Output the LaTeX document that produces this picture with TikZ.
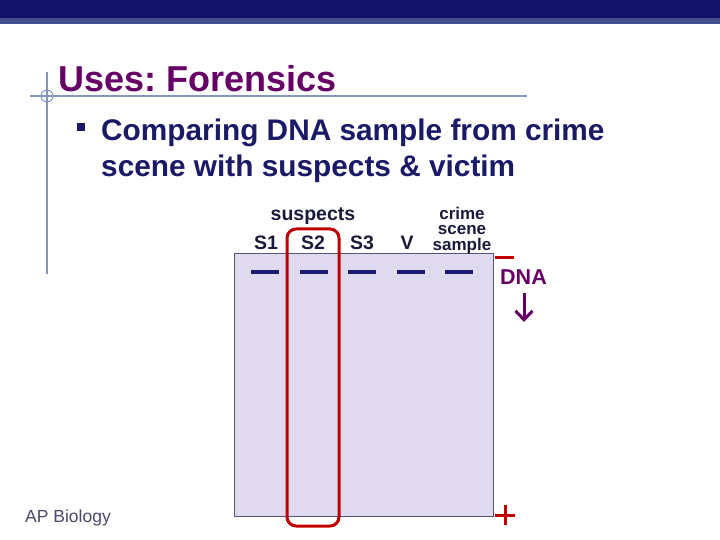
\documentclass[tikz,border=0pt]{standalone}
\usepackage{fontspec}
\setmainfont{Liberation Sans}
\usetikzlibrary{arrows.meta}
\definecolor{navy}{HTML}{121268}
\definecolor{navylight}{HTML}{434E8E}
\definecolor{titlepurple}{HTML}{660066}
\definecolor{textnavy}{HTML}{1A1A66}
\definecolor{guide}{HTML}{8496BE}
\definecolor{gel}{HTML}{E0DAF0}
\definecolor{gelborder}{HTML}{55557A}
\definecolor{bandc}{HTML}{1C1C6E}
\definecolor{redc}{HTML}{C00000}
\definecolor{footc}{HTML}{4A4A6A}
\definecolor{lblc}{HTML}{1A1A3A}
\tikzset{
  band/.style={draw=bandc, line width=4.5pt},
  lanelbl/.style={font=\fontsize{19.5}{21}\selectfont\bfseries, text=lblc, inner sep=0pt},
}
\frenchspacing
\begin{document}
\begin{tikzpicture}[x=1pt,y=-1pt]
\useasboundingbox (0,0) rectangle (720,540);
\fill[white] (0,0) rectangle (720,540);
% top bar
\fill[navy] (0,0) rectangle (720,18);
\fill[navylight] (0,18) rectangle (720,24.5);
% guide lines
\draw[guide, line width=1.6pt] (47,72) -- (47,274);
\draw[guide, line width=1.6pt] (30,96) -- (527,96);
\draw[guide, line width=1pt] (47,96) circle (6);
% title
\node[anchor=base west, inner sep=0pt, text=titlepurple, font=\fontsize{36}{38}\selectfont\bfseries] (title) at (58,92) {Uses: Forensics};
% bullet
\fill[textnavy] (77,123) rectangle (85,131) coordinate (bul);
\node[anchor=base west, inner sep=0pt, text=textnavy, font=\fontsize{29.8}{36}\selectfont\bfseries] (l1) at (101,141) {Comparing DNA sample from crime};
\node[anchor=base west, inner sep=0pt, text=textnavy, font=\fontsize{29.8}{36}\selectfont\bfseries] (l2) at (101,177) {scene with suspects \& victim};
% gel
\node[draw=gelborder, fill=gel, line width=0.8pt, minimum width=259pt, minimum height=263pt, inner sep=0pt, anchor=north west] (gelbox) at (234,253) {};
% bands
\draw[band] (251,272) -- (279,272);
\draw[band] (300,272) -- (328,272);
\draw[band] (348,272) -- (376,272);
\draw[band] (397,272) -- (425,272);
\draw[band] (445,272) -- (473,272);
% red rounded frame
\draw[redc, line width=3pt, rounded corners=9pt] (287,229) rectangle (339,526);
% labels
\node[lanelbl, anchor=base] (sus) at (313,221) {suspects};
\node[lanelbl, anchor=base] (s1) at (266,249) {S1};
\node[lanelbl, anchor=base] (s2) at (313,249) {S2};
\node[lanelbl, anchor=base] (s3) at (362,249) {S3};
\node[lanelbl, anchor=base] (v) at (407,249) {V};
\node[anchor=base, inner sep=0pt, text=lblc, font=\fontsize{17}{15.5}\selectfont\bfseries, align=center] (crime) at (462,250) {crime\\scene\\sample};
% DNA direction
\draw[redc, line width=3pt] (495,257) -- (514,257);
\node[anchor=base west, inner sep=0pt, text=titlepurple, font=\fontsize{21.5}{24}\selectfont\bfseries] (dna) at (500,284) {DNA};
\coordinate (atop) at (524,293);
\coordinate (abot) at (524,322);
\draw[titlepurple, line width=3pt, -{Straight Barb[length=9pt,width=17pt,line width=3pt]}] (atop) -- (abot);
% plus
\draw[redc, line width=3pt] (495,515) -- (515,515) (505,505) -- (505,525);
% footer
\node[anchor=base west, inner sep=0pt, text=footc, font=\fontsize{17.5}{18}\selectfont] (foot) at (25,522) {AP Biology};
\end{tikzpicture}
\end{document}
